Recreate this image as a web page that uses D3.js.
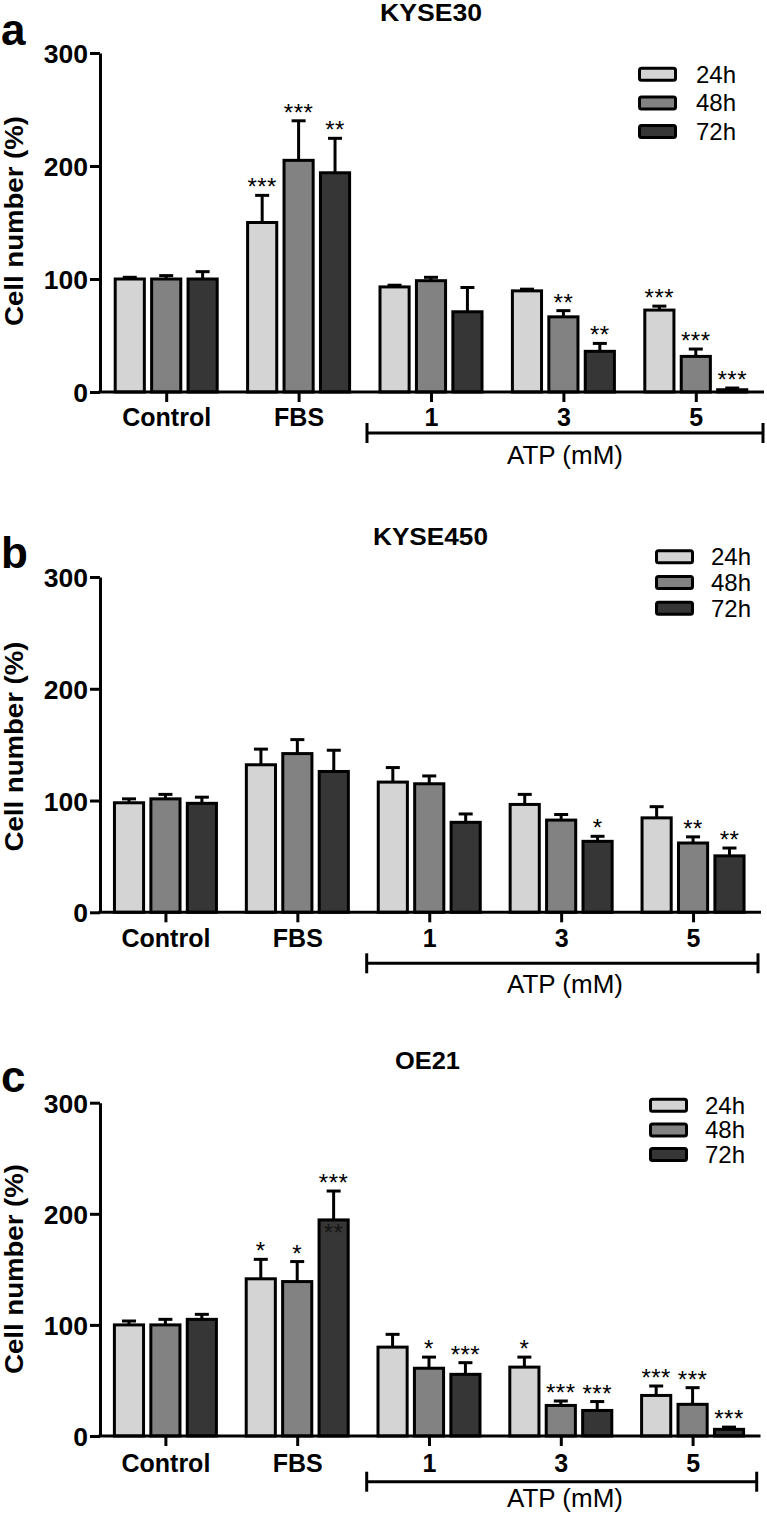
<!DOCTYPE html>
<html>
<head>
<meta charset="utf-8">
<script src="https://cdn.jsdelivr.net/npm/d3@7"></script>
<style>
  html, body { margin: 0; padding: 0; background: #fff; }
  svg { display: block; font-family: "Liberation Sans", Arial, sans-serif; }
</style>
</head>
<body>
<svg id="chart" width="767" height="1517"></svg>
<script>
// ---------- data ----------
const categories = ["Control", "FBS", "1", "3", "5"];
const series = ["24h", "48h", "72h"];
const seriesColors = ["#d4d4d4", "#828282", "#363636"];
const yTicks = [0, 100, 200, 300];
const bracketLabel = "ATP (mM)";
const yLabel = "Cell number (%)";

// Panel a: KYSE30
const kyse30_24h = [100, 150, 93, 89.5, 72.5];
const kyse30_48h = [100, 205, 98.5, 66.5, 31.5];
const kyse30_72h = [100, 194, 71, 36, 2];
const kyse30_err24 = [1.5, 24, 1.5, 1.5, 3.5];
const kyse30_err48 = [3, 35, 3, 5.5, 6.5];
const kyse30_err72 = [6.5, 30.5, 21.5, 7, 1.5];
const kyse30_sig24 = ["", "***", "", "", "***"];
const kyse30_sig48 = ["", "***", "", "**", "***"];
const kyse30_sig72 = ["", "**", "", "**", "***"];

// Panel b: KYSE450
const kyse450_24h = [98, 132, 116.5, 96.5, 84.5];
const kyse450_48h = [101.5, 142, 115, 82.5, 62];
const kyse450_72h = [97.5, 126, 80.5, 63.5, 50.5];
const kyse450_err24 = [3.5, 14, 13, 9, 10];
const kyse450_err48 = [4, 12.5, 7, 5, 5.5];
const kyse450_err72 = [5.5, 19, 7.5, 4.5, 7];
const kyse450_sig24 = ["", "", "", "", ""];
const kyse450_sig48 = ["", "", "", "", "**"];
const kyse450_sig72 = ["", "", "", "*", "**"];

// Panel c: OE21
const oe21_24h = [100, 141.5, 80, 62, 36.5];
const oe21_48h = [100, 139, 61, 27.5, 28.5];
const oe21_72h = [105, 194.5, 55.5, 23, 6];
const oe21_err24 = [3.5, 17.5, 11.5, 9, 8.5];
const oe21_err48 = [5, 18, 10, 4, 15];
const oe21_err72 = [4.5, 26, 10.5, 8, 2];
const oe21_sig24 = ["", "*", "", "*", "***"];
const oe21_sig48 = ["", "*", "*", "***", "***"];
const oe21_sig72 = ["", "***", "***", "***", "***"];
const oe21_innerSig72 = ["", "**", "", "", ""];

// ---------- layout ----------
const panels = [
  { letter: "a", title: "KYSE30", titleX: 431, titleY: 21, titleLen: 102, letterY: 45,
    y0: 392, y300: 53, xr: [100, 762], yLabelC: 221,
    legX: 638, legY: 66.7, legStep: 28.7, legTextX: 696,
    catY: 34, bracketY: 433, bracketX: [367, 763], atpY: 464, atpX: 565,
    vals: [kyse30_24h, kyse30_48h, kyse30_72h], errs: [kyse30_err24, kyse30_err48, kyse30_err72],
    sig: [kyse30_sig24, kyse30_sig48, kyse30_sig72], inner: null },
  { letter: "b", title: "KYSE450", titleX: 430.5, titleY: 545, titleLen: 115, letterY: 568,
    y0: 912.3, y300: 577, xr: [99.5, 759], yLabelC: 746.5,
    legX: 655, legY: 549.3, legStep: 25.7, legTextX: 711,
    catY: 34.5, bracketY: 963.3, bracketX: [366.7, 758], atpY: 992.5, atpX: 565,
    vals: [kyse450_24h, kyse450_48h, kyse450_72h], errs: [kyse450_err24, kyse450_err48, kyse450_err72],
    sig: [kyse450_sig24, kyse450_sig48, kyse450_sig72], inner: null },
  { letter: "c", title: "OE21", titleX: 427.5, titleY: 1069, titleLen: 65, letterY: 1092,
    y0: 1436, y300: 1102.7, xr: [99.5, 758.5], yLabelC: 1269,
    legX: 649, legY: 1097.7, legStep: 24.7, legTextX: 705,
    catY: 35.7, bracketY: 1481.7, bracketX: [366.7, 756.7], atpY: 1506.5, atpX: 565,
    vals: [oe21_24h, oe21_48h, oe21_72h], errs: [oe21_err24, oe21_err48, oe21_err72],
    sig: [oe21_sig24, oe21_sig48, oe21_sig72], inner: oe21_innerSig72 }
];

const svg = d3.select("#chart");
const AX = 100; // y-axis x position
const FONT = "Liberation Sans, Arial, sans-serif";

panels.forEach(p => {
  const g = svg.append("g");
  const y = d3.scaleLinear().domain([0, 300]).range([p.y0, p.y300]);
  const x = d3.scalePoint().domain(categories).range(p.xr).padding(0.5);
  const xs = d3.scaleBand().domain(series).range([-51, 51]).paddingInner(0.2);

  // panel letter
  g.append("text").attr("x", 1).attr("y", p.letterY)
    .attr("font-size", 44).attr("font-weight", "bold").text(p.letter);

  // title
  g.append("text").attr("x", p.titleX).attr("y", p.titleY).attr("text-anchor", "middle")
    .attr("font-size", 24).attr("font-weight", "bold")
    .attr("textLength", p.titleLen).attr("lengthAdjust", "spacingAndGlyphs").text(p.title);

  // y label
  g.append("text").attr("transform", `translate(23,${p.yLabelC}) rotate(-90)`)
    .attr("text-anchor", "middle").attr("font-size", 26).attr("font-weight", "bold")
    .attr("textLength", 210).attr("lengthAdjust", "spacingAndGlyphs").text(yLabel);

  // bars
  series.forEach((s, si) => {
    const sg = g.append("g");
    categories.forEach((c, ci) => {
      const v = p.vals[si][ci];
      const e = p.errs[si][ci];
      const bx = x(c) + xs(s);
      const mid = bx + xs.bandwidth() / 2;
      sg.append("line").attr("x1", mid).attr("x2", mid)
        .attr("y1", y(v)).attr("y2", y(v + e))
        .attr("stroke", "#000").attr("stroke-width", 3);
      sg.append("line").attr("x1", mid - 7).attr("x2", mid + 7)
        .attr("y1", y(v + e)).attr("y2", y(v + e))
        .attr("stroke", "#000").attr("stroke-width", 3);
      sg.append("rect").attr("x", bx).attr("y", y(v))
        .attr("width", xs.bandwidth()).attr("height", y(0) - y(v))
        .attr("fill", seriesColors[si]).attr("stroke", "#000").attr("stroke-width", 3);
      const sig = p.sig[si][ci];
      if (sig) {
        sg.append("text").attr("x", mid).attr("y", y(v + e))
          .attr("text-anchor", "middle").attr("font-size", 24)
          .attr("letter-spacing", 0.5).text(sig);
      }
      if (p.inner && si === 2 && p.inner[ci]) {
        sg.append("text").attr("x", mid).attr("y", y(v) + 21)
          .attr("text-anchor", "middle").attr("font-size", 24).attr("fill", "#151515")
          .attr("letter-spacing", 0.5).text(p.inner[ci]);
      }
    });
  });

  // y axis
  const ya = g.append("g").attr("transform", `translate(${AX},0)`)
    .call(d3.axisLeft(y).tickValues(yTicks).tickSize(10).tickSizeOuter(0).tickPadding(2));
  ya.select(".domain").attr("stroke-width", 3);
  ya.selectAll(".tick line").attr("stroke-width", 3);
  ya.selectAll(".tick text").attr("font-size", 26.5).attr("font-weight", "bold")
    .attr("font-family", FONT).attr("dy", "0.36em");

  // x axis
  const xa = g.append("g").attr("transform", `translate(0,${p.y0})`)
    .call(d3.axisBottom(x).tickSize(10).tickSizeOuter(0));
  xa.select(".domain").attr("stroke-width", 3).attr("d", `M${AX - 1.5},0H${p.xr[1] + 2}`);
  xa.selectAll(".tick line").attr("stroke-width", 3);
  xa.selectAll(".tick text").attr("font-size", 25).attr("font-weight", "bold")
    .attr("font-family", FONT)
    .attr("dy", null).attr("y", p.catY);

  // ATP bracket
  g.append("line").attr("x1", p.bracketX[0]).attr("x2", p.bracketX[1])
    .attr("y1", p.bracketY).attr("y2", p.bracketY).attr("stroke", "#000").attr("stroke-width", 3);
  p.bracketX.forEach(bxp => {
    g.append("line").attr("x1", bxp).attr("x2", bxp)
      .attr("y1", p.bracketY - 10).attr("y2", p.bracketY + 10)
      .attr("stroke", "#000").attr("stroke-width", 3);
  });
  g.append("text").attr("x", p.atpX).attr("y", p.atpY).attr("text-anchor", "middle")
    .attr("font-size", 26).text(bracketLabel);

  // legend
  series.forEach((s, si) => {
    const ly = p.legY + si * p.legStep;
    g.append("rect").attr("x", p.legX + 1.5).attr("y", ly + 1.5)
      .attr("width", 36).attr("height", 12).attr("rx", 2)
      .attr("fill", seriesColors[si]).attr("stroke", "#000").attr("stroke-width", 3);
    g.append("text").attr("x", p.legTextX).attr("y", ly + 16)
      .attr("font-size", 24).text(s);
  });
});
</script>
</body>
</html>
